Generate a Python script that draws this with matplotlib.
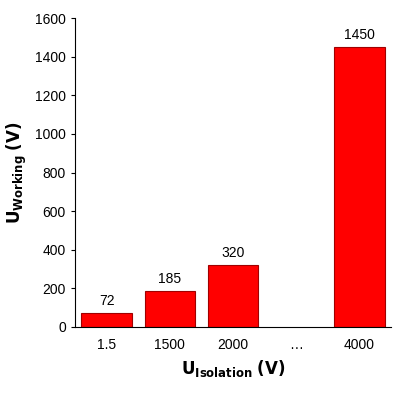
import numpy as np
import matplotlib
matplotlib.use('Agg')
from matplotlib import pyplot as plt

categories = ['1.5', '1500', '2000', '\u2026', '4000']
values = [72, 185, 320, None, 1450]

plt.rcParams['font.family'] = ['Liberation Sans Narrow', 'Liberation Sans', 'DejaVu Sans']
plt.rcParams['mathtext.fontset'] = 'custom'
plt.rcParams['mathtext.rm'] = 'Liberation Sans Narrow'
plt.rcParams['mathtext.bf'] = 'Liberation Sans Narrow:bold'

fig = plt.figure(figsize=(4, 4), dpi=100)
ax = fig.add_axes([0.1875, 0.1825, 0.79, 0.7725])

x = np.arange(len(categories))
for i, v in enumerate(values):
  if v is None:
    continue
  ax.bar(x[i], v, 0.8, color='#ff0000', edgecolor='#a00000', linewidth=0.8)
  ax.text(x[i], v + 25, str(v), ha='center', va='bottom', fontsize=10)

ax.set_xlim(-0.5, len(categories) - 0.5)
ax.set_ylim(0, 1600)
ax.set_yticks(np.arange(0, 1601, 200))
ax.set_xticks(x)
ax.set_xticklabels(categories)
ax.tick_params(labelsize=10, length=3)
ax.tick_params(axis='x', length=0, pad=8)
ax.spines['top'].set_visible(False)
ax.spines['right'].set_visible(False)

ax.set_ylabel(r'$\mathbf{U_{Working}}$ $\mathbf{(V)}$', fontsize=12)
ax.set_xlabel(r'$\mathbf{U_{Isolation}}$ $\mathbf{(V)}$', fontsize=12)

fig.savefig('out.png', dpi=100)
